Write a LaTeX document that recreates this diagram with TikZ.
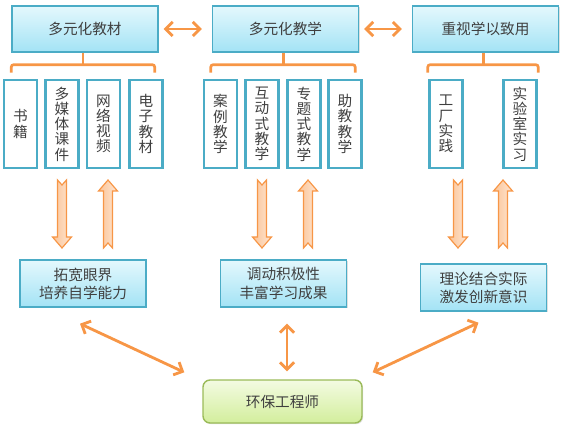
\documentclass[tikz,border=0pt]{standalone}
\usepackage{fontspec}
\setmainfont{Noto Sans CJK SC}
\usepackage{tikz}
\usetikzlibrary{arrows.meta, calc, shadows}

\definecolor{tealline}{HTML}{4BACC6}
\definecolor{cyantop}{HTML}{E4F8FD}
\definecolor{cyanbot}{HTML}{A3E3F5}
\definecolor{orangeline}{HTML}{F79646}
\definecolor{peachA}{HTML}{FBC497}
\definecolor{peachB}{HTML}{FEE6D3}
\definecolor{greenline}{HTML}{9BBB59}
\definecolor{greentop}{HTML}{F3FBE2}
\definecolor{greenbot}{HTML}{D3EE9C}
\definecolor{textgray}{HTML}{3F3F3F}

\newcommand{\pxl}{0.03cm}

\begin{document}
\begin{tikzpicture}[
x=0.03cm, y=-0.03cm,
font=\fontsize{12.5pt}{15.5pt}\selectfont, text=textgray,
topbox/.style={draw=tealline, line width=1.2pt, top color=cyantop, bottom color=cyanbot,
  minimum width=146*\pxl, minimum height=46*\pxl, align=center,
  drop shadow={opacity=0.25, shadow xshift=1pt, shadow yshift=-1pt}},
midbox/.style={topbox, minimum width=126*\pxl, minimum height=47*\pxl},
subbox/.style={draw=tealline, line width=2.4pt, fill=white, minimum width=33*\pxl,
  minimum height=88*\pxl, inner sep=0pt, align=center, font=\fontsize{12.5pt}{13pt}\selectfont},
goalbox/.style={draw=greenline, line width=1.2pt, top color=greentop, bottom color=greenbot,
  rounded corners=6pt, minimum width=159*\pxl, minimum height=43*\pxl,
  drop shadow={opacity=0.25, shadow xshift=1pt, shadow yshift=-1pt}},
brace/.style={draw=orangeline, line width=2.3pt, rounded corners=2pt},
link/.style={draw=orangeline, line width=2.4pt, {Straight Barb[length=6pt,width=12pt]}-{Straight Barb[length=6pt,width=12pt]}},
fatline/.style={draw=orangeline, line width=1pt, left color=peachA, right color=peachB},
fatarrow/.pic={\path[fatline] (-4.5,0) -- (0,5) -- (4.5,0) -- (4.5,57) -- (9.5,57) -- (0,68) -- (-9.5,57) -- (-4.5,57) -- cycle;}
]
\useasboundingbox (0,0) rectangle (566,432);

% --- top row ---
\node[topbox] (cai) at (85,29) {多元化教材};
\node[topbox] (jiao) at (285.5,29) {多元化教学};
\node[topbox] (yong) at (485.5,29) {重视学以致用};

\draw[link, shorten <=5*\pxl, shorten >=10*\pxl] (cai.east) -- (jiao.west);
\draw[link, shorten <=5*\pxl, shorten >=10*\pxl] (jiao.east) -- (yong.west);

% --- brackets ---
\draw[brace] ($(cai.south west)+(0,20)$) |- ($(cai.south)+(-2,12)$) -| ($(cai.south east)+(-4,20)$);
\draw[brace] ($(cai.south)+(-2,0)$) -- ++(0,12);
\draw[brace] ($(jiao.south west)+(-1,20)$) |- ($(jiao.south)+(-2,12)$) -| ($(jiao.south east)+(-4,20)$);
\draw[brace] ($(jiao.south)+(-2,0)$) -- ++(0,12);
\draw[brace] ($(yong.south west)+(16,20)$) |- ($(yong.south)+(-2,12)$) -| ($(yong.south east)+(-21,20)$);
\draw[brace] ($(yong.south)+(-2,0)$) -- ++(0,12);

% --- vertical boxes ---
\node[subbox] (s1) at (20.5,124) {书\\籍};
\node[subbox] (s2) at (62,124) {多\\媒\\体\\课\\件};
\node[subbox] (s3) at (103.5,124) {网\\络\\视\\频};
\node[subbox] (s4) at (146,124) {电\\子\\教\\材};

\node[subbox] (t1) at (220.5,124) {案\\例\\教\\学};
\node[subbox] (t2) at (262,124) {互\\动\\式\\教\\学};
\node[subbox] (t3) at (304,124) {专\\题\\式\\教\\学};
\node[subbox] (t4) at (345,124) {助\\教\\教\\学};

\node[subbox] (u1) at (446,124) {工\\厂\\实\\践};
\node[subbox] (u2) at (520,124) {实\\验\\室\\实\\习};

% --- fat arrows ---
\pic at (62,180) {fatarrow};
\pic[rotate=180] at (108,248) {fatarrow};
\pic at (262,180) {fatarrow};
\pic[rotate=180] at (308,248) {fatarrow};
\pic at (458,180) {fatarrow};
\pic[rotate=180] at (503,248) {fatarrow};

% --- middle row ---
\node[midbox] (m1) at (83,283.5) {拓宽眼界\\培养自学能力};
\node[midbox] (m2) at (283.5,283.5) {调动积极性\\丰富学习成果};
\node[midbox] (m3) at (483.5,287.5) {理论结合实际\\激发创新意识};

% --- goal ---
\node[goalbox] (eng) at (282.5,401.5) {环保工程师};

\draw[link] ($(m1.south)+(-3,16)$) -- ($(eng.north west)+(-18,-7)$);
\draw[link] ($(m2.south)+(3.5,16)$) -- ($(eng.north)+(4.5,-8)$);
\draw[link] ($(m3.south)+(-5,11)$) -- ($(eng.north east)+(10,-7)$);

\end{tikzpicture}
\end{document}
